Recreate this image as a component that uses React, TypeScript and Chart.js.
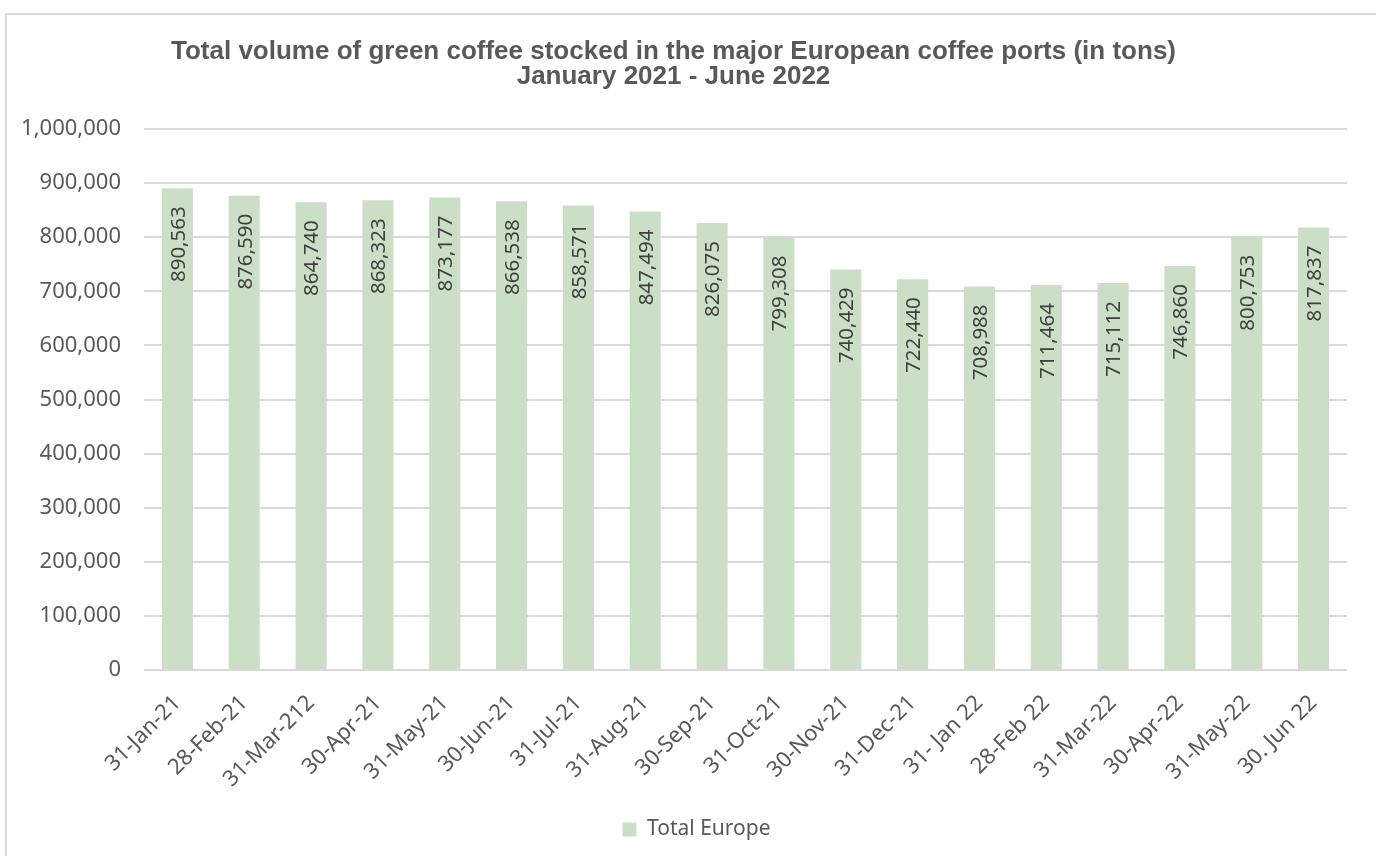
import React, { useEffect, useRef } from 'react'
import { Chart, ChartConfiguration, Plugin, registerables } from 'chart.js'

Chart.register(...registerables)

const titleLines = [
  'Total volume of green coffee stocked in the major European coffee ports (in tons)',
  'January 2021 - June 2022',
]

const categories = [
  '31-Jan-21', '28-Feb-21', '31-Mar-212', '30-Apr-21', '31-May-21', '30-Jun-21',
  '31-Jul-21', '31-Aug-21', '30-Sep-21', '31-Oct-21', '30-Nov-21', '31-Dec-21',
  '31- Jan 22', '28-Feb 22', '31-Mar-22', '30-Apr-22', '31-May-22', '30. Jun 22',
]

const totalEurope = [
  890563, 876590, 864740, 868323, 873177, 866538,
  858571, 847494, 826075, 799308, 740429, 722440,
  708988, 711464, 715112, 746860, 800753, 817837,
]

const yTickValues = [0, 100000, 200000, 300000, 400000, 500000, 600000, 700000, 800000, 900000, 1000000]

const BAR_COLOR = '#cadfc6'
const TEXT_COLOR = '#595959'
const GRID_COLOR = '#d9d9d9'
const FONT = '"Noto Sans", "Open Sans", sans-serif'

const fmt = (v: number) => v.toLocaleString('en-US')

// vertical value labels sitting just under the top of each bar
const valueLabels: Plugin<'bar'> = {
  id: 'valueLabels',
  afterDatasetsDraw(chart) {
    const { ctx } = chart
    const meta = chart.getDatasetMeta(0)
    const size = 20.5
    ctx.save()
    ctx.font = `${size}px ${FONT}`
    ctx.fillStyle = '#404040'
    ctx.textAlign = 'right'
    ctx.textBaseline = 'alphabetic'
    meta.data.forEach((bar, i) => {
      ctx.save()
      ctx.translate(bar.x, bar.y + 18)
      ctx.rotate(-Math.PI / 2)
      ctx.fillText(fmt(totalEurope[i]), 0, size * 0.36)
      ctx.restore()
    })
    ctx.restore()
  },
}

// Excel centres the legend a bit right of the plot's centre
const legendShift: Plugin<'bar'> = {
  id: 'legendShift',
  afterLayout(chart) {
    const legend = chart.legend
    if (!legend) return
    legend.left += 23
    legend.right += 23
  },
}

export default function App() {
  const canvasRef = useRef<HTMLCanvasElement>(null)

  useEffect(() => {
    if (!canvasRef.current) return
    const ctx = canvasRef.current.getContext('2d')
    if (!ctx) return

    const config: ChartConfiguration<'bar'> = {
      type: 'bar',
      data: {
        labels: categories,
        datasets: [{
          label: 'Total Europe',
          data: totalEurope,
          backgroundColor: BAR_COLOR,
          borderWidth: 0,
          categoryPercentage: 1,
          barPercentage: 0.465,
        }],
      },
      options: {
        responsive: false,
        animation: false,
        layout: { padding: { left: 0, right: 29, top: 0, bottom: 6 } },
        plugins: {
          title: {
            display: true,
            text: titleLines,
            color: TEXT_COLOR,
            font: { family: '"Liberation Sans", Arial, sans-serif', size: 26, weight: 'bold', lineHeight: 25 / 26 },
            padding: { top: 39.5, bottom: 39.5 },
          },
          legend: {
            display: true,
            position: 'bottom',
            labels: {
              color: TEXT_COLOR,
              boxWidth: 14,
              boxHeight: 14,
              padding: 10,
              font: { family: FONT, size: 21 },
            },
          },
          tooltip: { enabled: false },
        },
        scales: {
          x: {
            grid: { display: false },
            border: { display: false },
            ticks: {
              color: TEXT_COLOR,
              font: { family: FONT, size: 22 },
              maxRotation: 45,
              minRotation: 45,
              padding: 12,
              autoSkip: false,
            },
            afterFit: (scale) => { scale.height = 139 },
          },
          y: {
            min: 0,
            max: 1000000,
            afterBuildTicks: (scale) => { scale.ticks = yTickValues.map(v => ({ value: v })) },
            grid: { color: GRID_COLOR, lineWidth: 2, drawTicks: false },
            border: { display: false },
            ticks: {
              color: TEXT_COLOR,
              font: { family: FONT, size: 22 },
              padding: 23,
              callback: (value) => fmt(Number(value)),
            },
            afterFit: (scale) => { scale.width = 144 },
          },
        },
      },
      plugins: [valueLabels, legendShift],
    }

    const chart = new Chart(ctx, config)
    return () => chart.destroy()
  }, [])

  return (
    <div style={{ position: 'fixed', left: 0, top: 0, width: 1376, height: 856, background: '#ffffff', overflow: 'hidden' }}>
      <div style={{ position: 'absolute', left: 5, top: 13, width: 1400, height: 900, border: `2px solid ${GRID_COLOR}` }} />
      <canvas ref={canvasRef} width={1376} height={856} style={{ position: 'absolute', left: 0, top: 0 }} />
    </div>
  )
}
